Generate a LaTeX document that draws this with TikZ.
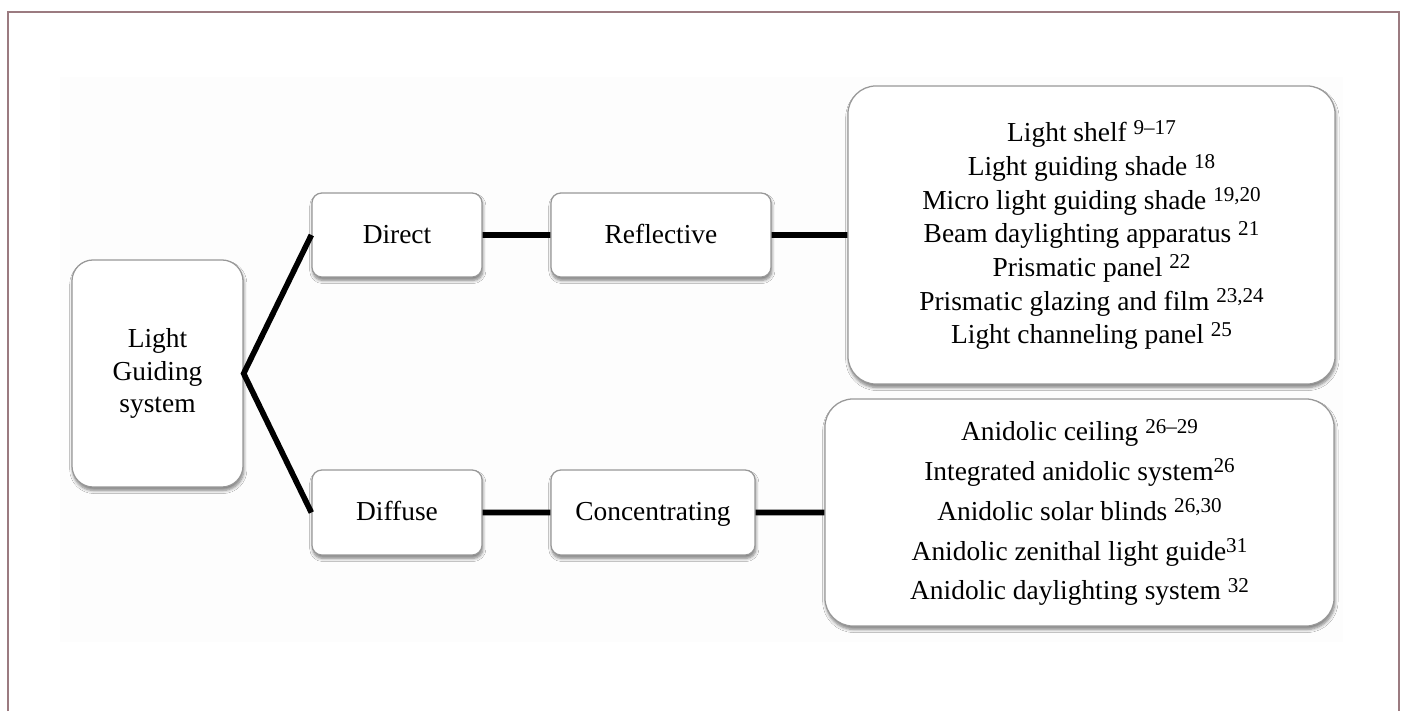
\documentclass[tikz,border=0pt]{standalone}
\usepackage{fontspec}
\setmainfont{Liberation Serif}
\usepackage{xcolor}
\usetikzlibrary{
    shadows.blur,
    positioning
}
\definecolor{framerose}{HTML}{9B7B80}
\definecolor{boxgrey}{HTML}{989898}
\newcommand{\refno}[1]{\raisebox{0.6ex}{\fontsize{15}{15}\selectfont #1}}

\begin{document}
\begin{tikzpicture}[x=0.025cm, y=-0.025cm,
    box/.style={draw=boxgrey, line width=0.9pt, fill=white, rounded corners=#1,
        align=center, inner sep=0pt,
        font=\fontsize{19.5}{23.5}\selectfont,
        blur shadow={shadow xshift=0.6pt, shadow yshift=-2.4pt,
            shadow blur steps=6, shadow blur radius=2.2pt, shadow opacity=50}},
    box/.default=7pt,
    onebox/.style={box, text height=11.4pt, text depth=0pt},
    link/.style={line width=4pt}]
                                \useasboundingbox (0, 0) rectangle (1405, 711);
                                \fill[black!0.7] (60, 77) rectangle (1343, 642);
                                \draw[framerose, line width=1.3pt] (8, 711) -- (8, 12) -- (1399, 12) -- (1399, 711);
                                \node[box=15pt, minimum width=4.275cm, minimum height=5.675cm,
                                    font=\fontsize{19.5}{23}\selectfont] (lgs) at (157.5, 373.5) {Light\\Guiding\\system};
                                \node[onebox, minimum width=4.25cm, minimum height=2.1cm] (direct) at (397, 235) {Direct};
                                \node[onebox, minimum width=5.5cm, minimum height=2.1cm] (refl) at (661, 235) {Reflective};
                                \node[onebox, minimum width=4.25cm, minimum height=2.125cm] (diffuse) at (397, 512.5) {Diffuse};
                                \node[onebox, minimum width=5.1cm, minimum height=2.125cm] (conc) at (653, 512.5) {Concentrating};
                                \node[box=20pt, minimum width=12.175cm, minimum height=7.45cm,
                                    font=\fontsize{19.5}{23.9}\selectfont] (refllist) at (1091.5, 235) {%
                                    Light shelf \refno{9--17}\\
                                    Light guiding shade \refno{18}\\
                                    Micro light guiding shade \refno{19,20}\\
                                    Beam daylighting apparatus \refno{21}\\
                                    Prismatic panel \refno{22}\\
                                    Prismatic glazing and film \refno{23,24}\\
                                    Light channeling panel \refno{25}};
                                \node[box=20pt, minimum width=12.725cm, minimum height=5.675cm,
                                    font=\fontsize{19.5}{28.3}\selectfont] (conclist) at (1079.5, 512.5) {%
                                    Anidolic ceiling \refno{26--29}\\
                                    Integrated anidolic system\refno{26}\\
                                    Anidolic solar blinds \refno{26,30}\\
                                    Anidolic zenithal light guide\refno{31}\\
                                    Anidolic daylighting system \refno{32}};
                                \draw[link]
                                (direct.west) -- (lgs.east) -- (diffuse.west)
                                (direct) -- (refl) -- (refllist)
                                (diffuse) -- (conc) -- (conclist);
                            \end{tikzpicture}
\end{document}
